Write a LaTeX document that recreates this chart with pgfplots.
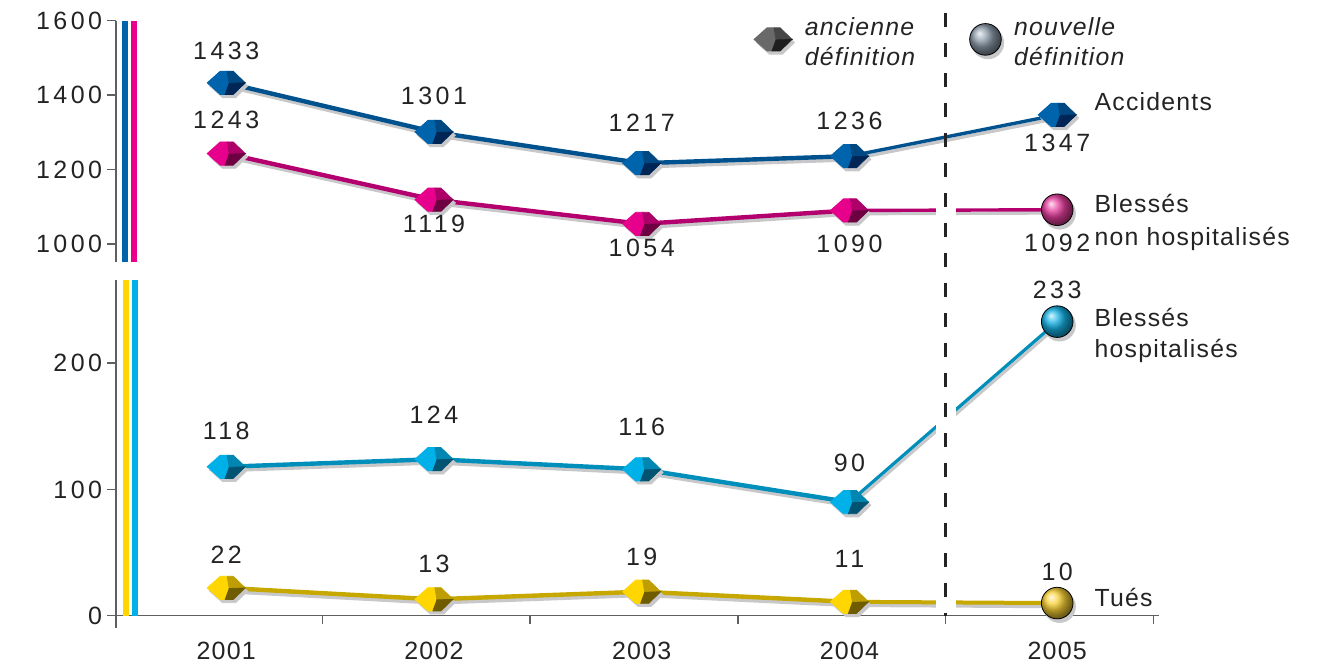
\documentclass[border=0pt]{standalone}
\usepackage{pgfplots}
\pgfplotsset{compat=1.18}
\usepackage{pgfplotstable}
\usepackage{fontspec}
\setmainfont{Liberation Sans}[LetterSpace=5]
\newfontfamily\numfont{Liberation Sans}[LetterSpace=14]

\definecolor{txt}{RGB}{35,35,35}
\definecolor{axgray}{RGB}{95,95,95}
\definecolor{shadowgray}{RGB}{200,200,202}
\definecolor{accLine}{RGB}{0,82,142}
\definecolor{accMain}{RGB}{0,100,172}
\definecolor{accMid}{RGB}{0,72,130}
\definecolor{accDark}{RGB}{0,38,85}
\definecolor{pinkLine}{RGB}{180,0,110}
\definecolor{pinkMain}{RGB}{230,0,140}
\definecolor{pinkMid}{RGB}{172,0,104}
\definecolor{pinkDark}{RGB}{108,0,64}
\definecolor{pinkBall}{RGB}{232,62,158}
\definecolor{cyanLine}{RGB}{0,142,186}
\definecolor{cyanMain}{RGB}{0,176,232}
\definecolor{cyanMid}{RGB}{0,134,176}
\definecolor{cyanDark}{RGB}{0,84,114}
\definecolor{cyanBall}{RGB}{20,176,228}
\definecolor{yelLine}{RGB}{198,168,0}
\definecolor{yelMain}{RGB}{255,214,0}
\definecolor{yelMid}{RGB}{190,158,0}
\definecolor{yelDark}{RGB}{112,92,0}
\definecolor{yelBall}{RGB}{248,208,52}
\definecolor{greyMain}{RGB}{105,105,105}
\definecolor{greyMid}{RGB}{70,70,70}
\definecolor{greyDark}{RGB}{30,30,30}
\definecolor{greyBall}{RGB}{142,157,172}

\newcommand\defcube[4]{%
 \pgfdeclareplotmark{#1}{%
  \fill[shadowgray] (-8.3pt,-1.6pt) -- (-1.8pt,4.2pt) -- (4.7pt,4.2pt) -- (10.7pt,-1.6pt) -- (4.7pt,-7.4pt) -- (-1.8pt,-7.4pt) -- cycle;
  \fill[#2] (-9.5pt,0pt) -- (-3pt,5.8pt) -- (0.5pt,5.8pt) -- (1.5pt,-0.3pt) -- (-0.5pt,-5.8pt) -- (-3pt,-5.8pt) -- cycle;
  \fill[#3] (0.5pt,5.8pt) -- (3.5pt,5.8pt) -- (9.5pt,0pt) -- (1.5pt,-0.3pt) -- cycle;
  \fill[#4] (1.5pt,-0.3pt) -- (9.5pt,0pt) -- (3.5pt,-5.8pt) -- (-0.5pt,-5.8pt) -- cycle;
 }}
\newcommand\defball[2]{%
 \pgfdeclareplotmark{#1}{%
  \fill[shadowgray] (1.2pt,-1.8pt) circle (7.9pt);
  \shade[ball color=#2] (0pt,0pt) circle (7.9pt);
 }}
\defcube{cubeacc}{accMain}{accMid}{accDark}
\defcube{cubepink}{pinkMain}{pinkMid}{pinkDark}
\defcube{cubecyan}{cyanMain}{cyanMid}{cyanDark}
\defcube{cubeyel}{yelMain}{yelMid}{yelDark}
\defcube{cubegrey}{greyMain}{greyMid}{greyDark}
\defball{ballpink}{pinkBall}
\defball{ballcyan}{cyanBall}
\defball{ballyel}{yelBall}
\defball{ballgrey}{greyBall}

\pgfplotstableread{
x y d
1 1433 16.2
2 1301 18
3 1217 20.4
4 1236 17.6
5 1347 -13.8
}\accid
\pgfplotstableread{
x y d
1 1243 16.8
2 1119 -12.2
3 1054 -12
4 1090 -16.8
5 1092 -16.4
}\pinkt
\pgfplotstableread{
x y d
1 118 17.9
2 124 22.3
3 116 21.4
4 90 19.8
5 233 15.9
}\hosp
\pgfplotstableread{
x y d
1 22 16.5
2 13 17.7
3 19 17.5
4 11 21.4
5 10 15.4
}\tues

\pgfplotsset{
 panel/.style={scale only axis, width=521.5pt, xmin=0.4705, xmax=5.491, clip=false,
   axis line style={draw=axgray, line width=0.8pt},
   tick style={draw=axgray, line width=0.8pt},
   tick align=outside, major tick length=4.5pt,
   yticklabel style={font=\fontsize{12.5}{14}\selectfont\numfont, text=txt, xshift=1pt},
   xticklabel style={font=\fontsize{12.5}{14}\selectfont, text=txt, yshift=-5pt}},
 lbl/.style={draw=none, mark=none, nodes near coords={\pgfplotspointmeta},
   point meta=explicit symbolic,
   visualization depends on={\thisrow{d}\as\ldir},
   every node near coord/.append style={anchor=center, yshift=\ldir pt,
     font=\fontsize{12.5}{14}\selectfont\numfont, text=txt, inner sep=0pt}},
 shd/.style={shadowgray, line width=#1, xshift=0.7pt, yshift=-1.6pt, line join=round},
}
\tikzset{rlab/.style={anchor=base west, inner sep=0pt, xshift=18.5pt, text=txt, font=\fontsize{12.4}{15}\selectfont}}

\begin{document}
\begin{tikzpicture}
\path[use as bounding box] (0,0) rectangle (662pt,334pt);

% ---------------- bottom panel ----------------
\begin{axis}[panel, at={(58.1pt,26.15pt)}, anchor=south west,
  height=167.85pt, ymin=0, ymax=266,
  axis x line*=bottom, axis y line*=left,
  xtick={1,2,3,4,5}, xticklabels={2001,2002,2003,2004,2005},
  minor xtick={1.463,2.463,3.463,4.463,5.463}, minor tick length=4pt,
  major x tick style={draw=none},
  ytick={0,100,200}, yticklabels={0,100,200}]
 % shadows
 \addplot[shd=2.2pt, restrict x to domain=1:4] table[x=x,y=y]{\hosp};
 \addplot[shd=1.6pt, restrict x to domain=4:5] table[x=x,y=y]{\hosp};
 \addplot[shd=2.2pt, restrict x to domain=1:4] table[x=x,y=y]{\tues};
 \addplot[shd=2pt, restrict x to domain=4:5] table[x=x,y=y]{\tues};
 % lines
 \addplot[cyanLine, line width=2.2pt, line join=round, restrict x to domain=1:4] table[x=x,y=y]{\hosp};
 \addplot[cyanLine, line width=1.6pt, restrict x to domain=4:5] table[x=x,y=y]{\hosp};
 \addplot[yelLine, line width=2.2pt, line join=round, restrict x to domain=1:4] table[x=x,y=y]{\tues};
 \addplot[yelLine, line width=2pt, restrict x to domain=4:5] table[x=x,y=y]{\tues};
 % gap at the change of definition
 \draw[white, line width=10pt] (axis cs:4.463,2) -- (axis cs:4.463,262);
 % markers
 \addplot[only marks, mark=cubecyan, restrict x to domain=1:4] table[x=x,y=y]{\hosp};
 \addplot[only marks, mark=ballcyan, restrict x to domain=4.5:5.5] table[x=x,y=y]{\hosp};
 \addplot[only marks, mark=cubeyel, restrict x to domain=1:4] table[x=x,y=y]{\tues};
 \addplot[only marks, mark=ballyel, restrict x to domain=4.5:5.5] table[x=x,y=y]{\tues};
 % value labels
 \addplot[lbl] table[x=x,y=y,meta=y]{\hosp};
 \addplot[lbl] table[x=x,y=y,meta=y]{\tues};
 % colour bars
 \draw[yelMain, line width=3pt] ([xshift=5pt]rel axis cs:0,0) -- ([xshift=5pt]rel axis cs:0,1);
 \draw[cyanMain, line width=3pt] ([xshift=9.6pt]rel axis cs:0,0) -- ([xshift=9.6pt]rel axis cs:0,1);
 \draw[axgray, line width=0.8pt] (rel axis cs:0,0) -- ([yshift=-6pt]rel axis cs:0,0);
 % series names
 \node[rlab] at (axis cs:5,229) {Blessés};
 \node[rlab] at (axis cs:5,204.2) {hospitalisés};
 \node[rlab] at (axis cs:5,7.1) {Tués};
 \coordinate (dlb) at (axis cs:4.463,0);
\end{axis}

% ---------------- top panel ----------------
\begin{axis}[panel, at={(58.1pt,203.15pt)}, anchor=south west,
  height=120.5pt, ymin=952.4, ymax=1600,
  axis x line=none, axis y line*=left,
  ytick={1000,1200,1400,1600}, yticklabels={1000,1200,1400,1600},
  legend style={draw=none, fill=none, at={(axis cs:3.508,1539)}, anchor=west,
    legend columns=2, font=\itshape\fontsize{12.4}{15}\selectfont, text=txt,
    nodes={inner sep=0pt},
    cells={anchor=west, align=left},
    /tikz/every odd column/.append style={column sep=5pt},
    /tikz/every even column/.append style={column sep=27pt}},
  legend cell align=left]
 \addlegendimage{legend image code/.code={\pgftransformshift{\pgfpoint{0pt}{2pt}}\pgfuseplotmark{cubegrey}}}
 \addlegendentry{ancienne\\définition}
 \addlegendimage{legend image code/.code={\pgftransformshift{\pgfpoint{0pt}{2pt}}\pgfuseplotmark{ballgrey}}}
 \addlegendentry{nouvelle\\définition}
 % shadows
 \addplot[shd=2.2pt, restrict x to domain=1:4] table[x=x,y=y]{\accid};
 \addplot[shd=1.7pt, restrict x to domain=4:5] table[x=x,y=y]{\accid};
 \addplot[shd=2.2pt, restrict x to domain=1:4] table[x=x,y=y]{\pinkt};
 \addplot[shd=1.7pt, restrict x to domain=4:5] table[x=x,y=y]{\pinkt};
 % lines
 \addplot[accLine, line width=2.2pt, line join=round, restrict x to domain=1:4] table[x=x,y=y]{\accid};
 \addplot[accLine, line width=1.7pt, restrict x to domain=4:5] table[x=x,y=y]{\accid};
 \addplot[pinkLine, line width=2.2pt, line join=round, restrict x to domain=1:4] table[x=x,y=y]{\pinkt};
 \addplot[pinkLine, line width=1.7pt, restrict x to domain=4:5] table[x=x,y=y]{\pinkt};
 \draw[white, line width=10pt] (axis cs:4.463,1060) -- (axis cs:4.463,1125);
 % markers
 \addplot[only marks, mark=cubeacc] table[x=x,y=y]{\accid};
 \addplot[only marks, mark=cubepink, restrict x to domain=1:4] table[x=x,y=y]{\pinkt};
 \addplot[only marks, mark=ballpink, restrict x to domain=4.5:5.5] table[x=x,y=y]{\pinkt};
 % value labels
 \addplot[lbl] table[x=x,y=y,meta=y]{\accid};
 \addplot[lbl] table[x=x,y=y,meta=y]{\pinkt};
 % colour bars
 \draw[accMain, line width=3pt] ([xshift=4.5pt]rel axis cs:0,0) -- ([xshift=4.5pt]rel axis cs:0,1);
 \draw[pinkMain, line width=3pt] ([xshift=8.9pt]rel axis cs:0,0) -- ([xshift=8.9pt]rel axis cs:0,1);
 % series names
 \node[rlab] at (axis cs:5,1358.3) {Accidents};
 \node[rlab] at (axis cs:5,1084) {Blessés};
 \node[rlab] at (axis cs:5,995.4) {non hospitalisés};
\end{axis}

\coordinate (dtop) at (0,327.5pt);
\draw[txt, line width=1.3pt, dash pattern=on 7pt off 8pt] (dlb |- dtop) -- (dlb);
\end{tikzpicture}
\end{document}
